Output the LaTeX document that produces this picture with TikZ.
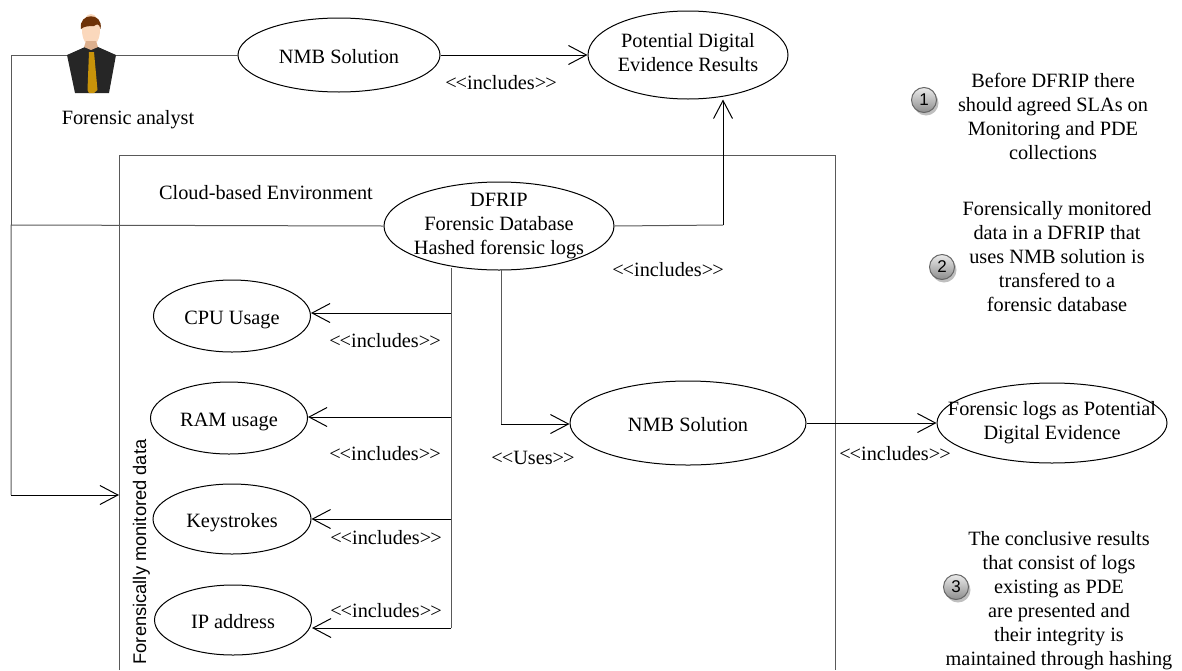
\documentclass[tikz,border=0pt]{standalone}
\usepackage{fontspec}
\setmainfont{Liberation Serif}
\setsansfont{Liberation Sans}
\usetikzlibrary{arrows.meta,shapes.geometric,shadows}
\definecolor{suit}{HTML}{262626}
\definecolor{skin}{HTML}{FBD8BC}
\definecolor{neck}{HTML}{DDB08E}
\definecolor{hair}{HTML}{6E3208}
\definecolor{tie}{HTML}{C8930A}
\newcommand{\incl}{<\kern-1pt<includes>\kern-1pt>}
\tikzset{
  drop/.style={execute at begin node={\rule{0pt}{#1pt}},execute at end node={\rule[-5pt]{0pt}{5pt}}},
  usecase/.style={draw=black,line width=1pt,ellipse,inner xsep=-30pt,inner ysep=-14pt,fill=white,align=center,drop=22},
  plain/.style={inner sep=0pt,align=center},
  wire/.style={draw=black!65,line width=1pt},
  barb/.style={draw=black,line width=1pt,-{Straight Barb[length=18pt,width=19pt,line width=1pt]}},
  badge/.style={circle,draw=black!60,line width=1pt,minimum size=25pt,inner sep=0pt,top color=black!8,bottom color=black!45,drop shadow={shadow xshift=2pt,shadow yshift=-3pt,opacity=0.5},font=\sffamily\fontsize{17}{20}\selectfont}
}
\begin{document}
\begin{tikzpicture}[x=1pt,y=1pt,font=\fontsize{20.3}{24}\selectfont]
\useasboundingbox (0,0) rectangle (1182,-670);
\coordinate (ltop) at (11,-55);
\coordinate (lmid) at (11,-225);
\coordinate (lbot) at (11,-495);
\coordinate (envin) at (119,-495);
\coordinate (boxbl) at (119,-670);
\coordinate (boxtl) at (119,-155);
\coordinate (boxtr) at (835,-155);
\coordinate (boxbr) at (835,-670);
\coordinate (busa) at (451,-268);
\coordinate (busb) at (451,-628);
\coordinate (busc) at (451,-313);
\coordinate (busd) at (451,-417);
\coordinate (buse) at (451,-519);
\coordinate (usesa) at (501,-270);
\coordinate (usesb) at (501,-424);
\coordinate (dfripr) at (723,-225);
\draw [wire] (boxbl) -- (boxtl) -- (boxtr) -- (boxbr);
\node [usecase,minimum width=202pt,minimum height=74pt] (nmbtop) at (339,-55) {NMB Solution};
\node [usecase,minimum width=200pt,minimum height=88pt] (pde) at (688,-55) {Potential Digital\\Evidence Results};
\node [usecase,minimum width=230pt,minimum height=88pt] (dfrip) at (499,-226) {DFRIP\\Forensic Database\\Hashed forensic logs};
\node [usecase,minimum width=157pt,minimum height=72pt] (cpu) at (232,-316) {CPU Usage};
\node [usecase,minimum width=157pt,minimum height=72pt] (ram) at (229,-418) {RAM usage};
\node [usecase,minimum width=158pt,minimum height=70pt] (keys) at (232,-519) {Keystrokes};
\node [usecase,minimum width=157pt,minimum height=70pt] (ip) at (233,-620) {IP address};
\node [usecase,drop=19,minimum width=236pt,minimum height=84pt] (nmbin) at (688,-423) {NMB Solution};
\node [usecase,minimum width=230pt,minimum height=80pt] (logs) at (1052,-423) {Forensic logs as Potential\\Digital Evidence};
\draw [wire] (nmbtop.west) -- (ltop) -- (lmid);
\draw [wire] (dfrip.west) -- (lmid) -- (lbot);
\draw [barb] (lbot) -- (envin);
\draw [barb] (nmbtop.east) -- (pde.west);
\draw [wire] (dfrip.east) -- (dfripr);
\draw [barb] (dfripr) -- (pde.south -| dfripr);
\draw [wire] (busa) -- (busb);
\draw [barb] (busc) -- (cpu.east |- busc);
\draw [barb] (busd) -- (ram.east |- busd);
\draw [barb] (buse) -- (keys.east |- buse);
\draw [barb] (busb) -- (ip.east |- busb);
\draw [wire] (usesa) -- (usesb);
\draw [barb] (usesb) -- (nmbin.west |- usesb);
\draw [barb] (nmbin.east) -- (logs.west);
\fill [suit] (67,-55) -- (85,-47) -- (98,-47) -- (116,-55) -- (109,-93) -- (75,-93) -- cycle;
\fill [skin] (91,-30) ellipse (9 and 16);
\fill [neck] (86,-41) -- (96,-41) -- (98,-47) -- (91,-50) -- (84,-47) -- cycle;
\fill [hair] (81,-29) .. controls (78,-12) and (104,-12) .. (100.5,-29) .. controls (99,-23) and (97,-24) .. (94,-26) .. controls (90,-26) and (84,-26) .. (81,-29) -- cycle;
\fill [tie] (89,-52) -- (94,-52) -- (97.5,-90) -- (94,-93) -- (89,-93) -- (87.5,-90) -- cycle;
\node [plain] (analyst) at (128,-120) {Forensic analyst};
\node [plain] (envlabel) at (266,-193) {Cloud-based Environment};
\node [plain,rotate=90,font=\sffamily\fontsize{18.3}{22}\selectfont] (monlabel) at (141.5,-552) {Forensically monitored data};
\node [plain] (inclpde) at (501,-83) {\incl};
\node [plain] (incldf) at (668,-270) {\incl};
\node [plain] (inclcpu) at (385,-341) {\incl};
\node [plain] (inclram) at (385,-454) {\incl};
\node [plain] (inclkeys) at (386,-538) {\incl};
\node [plain] (inclip) at (386,-611) {\incl};
\node [plain] (incllogs) at (895,-454) {\incl};
\node [plain] (useslabel) at (533,-458) {<\kern-1pt<Uses>\kern-1pt>};
\node [badge] (one) at (924,-100) {1};
\node [badge] (two) at (942,-267) {2};
\node [badge] (three) at (956,-587) {3};
\node [plain] (noteone) at (1053,-116) {Before DFRIP there\\should agreed SLAs on\\Monitoring and PDE\\collections};
\node [plain] (notetwo) at (1057,-257) {Forensically monitored\\data in a DFRIP that\\uses NMB solution is\\transfered to a\\forensic database};
\node [plain] (notethree) at (1059,-601) {The conclusive results\\that consist of logs\\existing as PDE\\are presented and\\their integrity is\\maintained through hashing};
\end{tikzpicture}
\end{document}
